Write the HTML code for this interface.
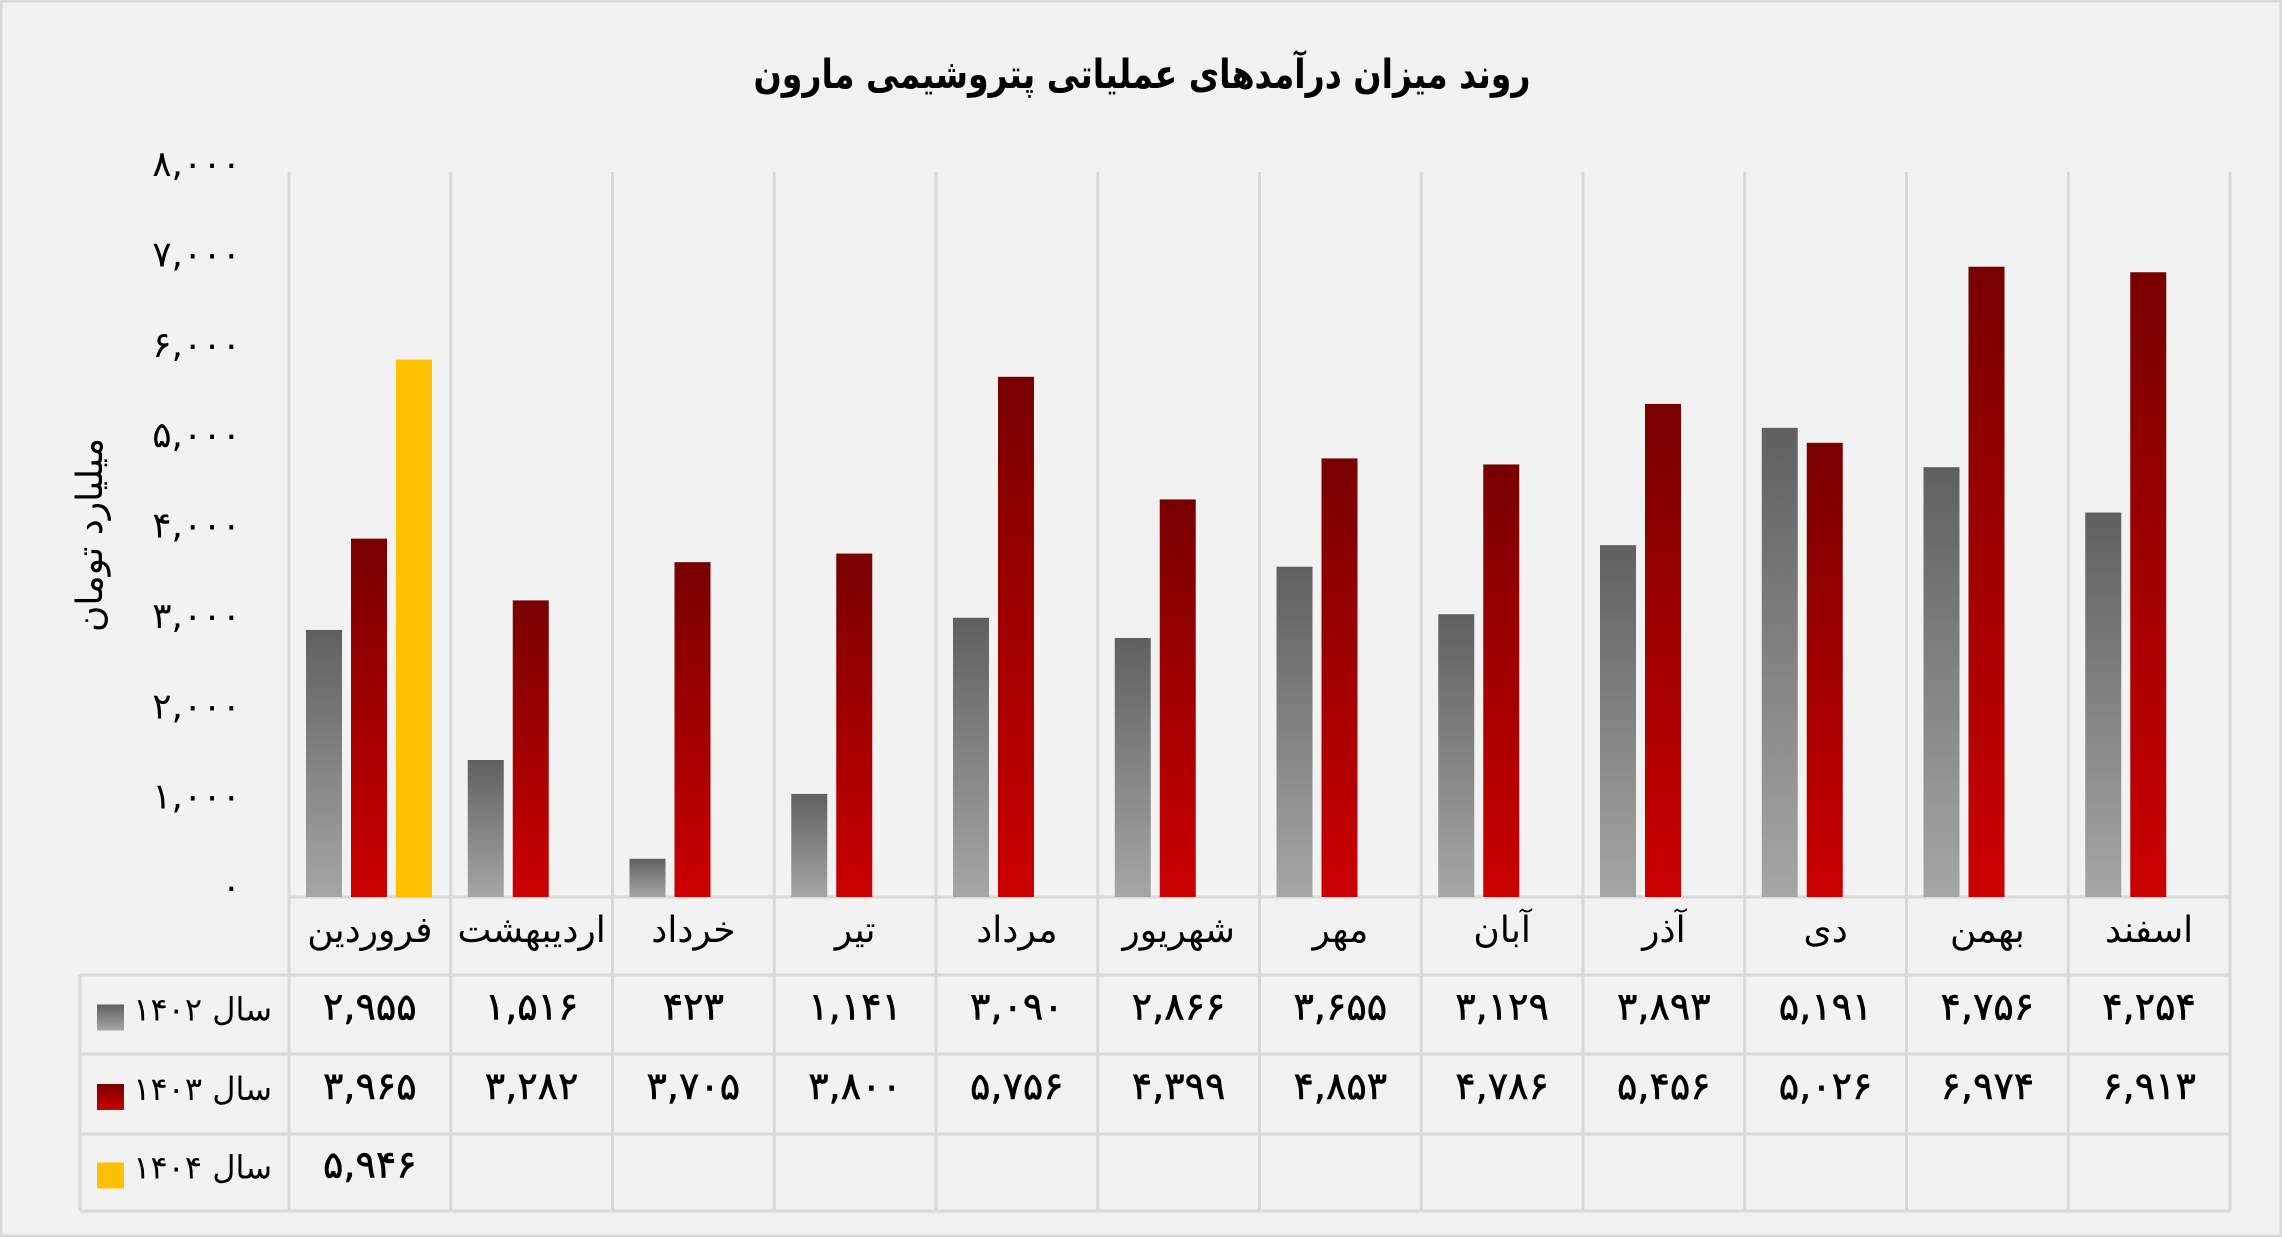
<!DOCTYPE html>
<html><head><meta charset="utf-8">
<style>
html,body{margin:0;padding:0;background:#f2f2f2;}
svg{display:block;font-family:"DejaVu Sans","Liberation Sans",sans-serif;}
</style></head>
<body>
<svg id="chart" width="2282" height="1237" viewBox="0 0 2282 1237" xmlns="http://www.w3.org/2000/svg">
<defs>
<linearGradient id="gGray" x1="0" y1="0" x2="0" y2="1"><stop offset="0" stop-color="#606060"/><stop offset="1" stop-color="#a6a6a6"/></linearGradient>
<linearGradient id="gRed" x1="0" y1="0" x2="0" y2="1"><stop offset="0" stop-color="#780000"/><stop offset="1" stop-color="#cc0000"/></linearGradient>
</defs>
<rect x="1" y="1" width="2280" height="1235" fill="#f2f2f2" stroke="#d9d9d9" stroke-width="3"/>
<text x="1142" y="88" text-anchor="middle" font-size="40" font-weight="bold" fill="#000" textLength="777" lengthAdjust="spacingAndGlyphs">روند میزان درآمدهای عملیاتی پتروشیمی مارون</text>
<text transform="translate(102,535) rotate(-90)" text-anchor="middle" font-size="36" fill="#000">میلیارد تومان</text>
<g id="grid"></g>
<g id="bars"></g>
<g id="table"></g>
</svg>
<script>
const categories = ["فروردین","اردیبهشت","خرداد","تیر","مرداد","شهریور","مهر","آبان","آذر","دی","بهمن","اسفند"];
const series1402 = [2955,1516,423,1141,3090,2866,3655,3129,3893,5191,4756,4254];
const series1403 = [3965,3282,3705,3800,5756,4399,4853,4786,5456,5026,6974,6913];
const series1404 = [5946];
const seriesNames = ["سال ۱۴۰۲","سال ۱۴۰۳","سال ۱۴۰۴"];
const yTicks = [0,1000,2000,3000,4000,5000,6000,7000,8000];

const NS="http://www.w3.org/2000/svg";
const L=289,R=2230,T=174,B=897,YMAX=8000;
const cw=(R-L)/categories.length;
const y=v=>B-(v/YMAX)*(B-T);
const xCat=i=>L+i*cw;
function fa(n){const s=n.toLocaleString('en-US');return s.replace(/[0-9]/g,d=>"۰۱۲۳۴۵۶۷۸۹"[d]);}
function mk(tag,attrs,parent){const e=document.createElementNS(NS,tag);for(const k in attrs)e.setAttribute(k,attrs[k]);parent.appendChild(e);return e;}
const grid=document.getElementById('grid'),bars=document.getElementById('bars'),tbl=document.getElementById('table');
const lc="#d9d9d9";
yTicks.forEach(v=>{const t=mk('text',{x:241,y:y(v)+2,'text-anchor':'end','font-size':36,fill:'#000'},grid);


t.textContent=fa(v);});
const rows=[897,975,1054,1134,1211];
for(let i=0;i<=categories.length;i++){const l=mk('line',{x1:xCat(i),x2:xCat(i),y1:172,y2:rows[4],stroke:lc,'stroke-width':3},grid);

}
const bl=mk('line',{x1:L,x2:R,y1:B,y2:B,stroke:lc,'stroke-width':3},grid);


rows.slice(1).forEach(ry=>{const l=mk('line',{x1:80,x2:R,y1:ry,y2:ry,stroke:lc,'stroke-width':3},tbl);

});
const ll=mk('line',{x1:80,x2:80,y1:rows[1],y2:rows[4],stroke:lc,'stroke-width':3},tbl);


const bw=36;
const sets=[[series1402,'url(#gGray)',17],[series1403,'url(#gRed)',62],[series1404,'#ffc000',107]];
sets.forEach((s,si)=>{s[0].forEach((v,i)=>{const r=mk('rect',{x:xCat(i)+s[2],y:y(v),width:bw,height:B-y(v),fill:s[1]},bars);

});});
categories.forEach((c,i)=>{const t=mk('text',{x:xCat(i)+cw/2,y:942,'text-anchor':'middle','font-size':36,fill:'#000'},tbl);


t.textContent=c;});
const colors=['url(#gGray)','url(#gRed)','#ffc000'];
[series1402,series1403,series1404].forEach((s,si)=>{
 const cy=(rows[si+1]+rows[si+2])/2;
 const sw=mk('rect',{x:97,y:cy-10,width:27,height:26,fill:colors[si]},tbl);
 
 
 const lt=mk('text',{x:272,y:cy+6,'text-anchor':'start','font-size':32,fill:'#000',direction:'rtl'},tbl);
 
 
 lt.textContent=seriesNames[si];
 s.forEach((v,i)=>{const t=mk('text',{x:xCat(i)+cw/2,y:cy+5,'text-anchor':'middle','font-size':38,fill:'#000',stroke:'#000','stroke-width':0.6},tbl);
 
 
 t.textContent=fa(v);});
});
</script>
</body></html>
